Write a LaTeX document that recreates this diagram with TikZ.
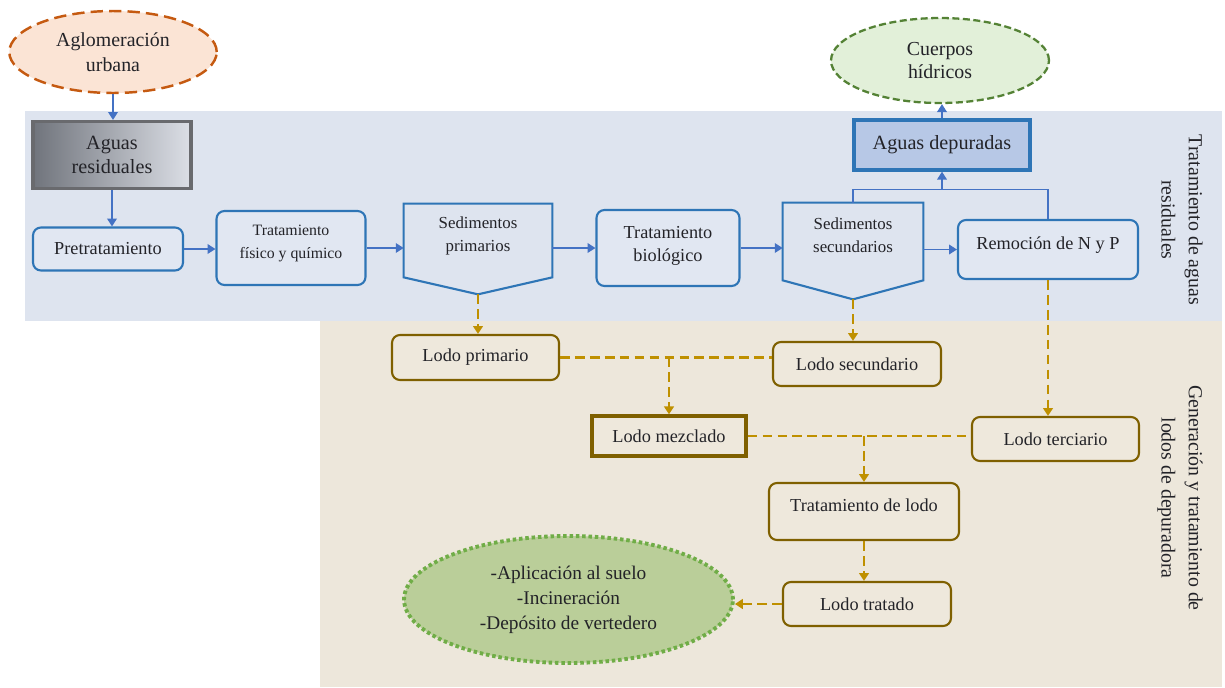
\documentclass[tikz,border=0pt]{standalone}
\usepackage{fontspec}
\setmainfont{Liberation Serif}
\usepackage{tikz}
\usetikzlibrary{shapes.geometric,arrows.meta,positioning,calc}
\definecolor{bandblue}{RGB}{222,228,239}
\definecolor{bandbeige}{RGB}{237,231,219}
\definecolor{boxblue}{RGB}{46,117,182}
\definecolor{flowblue}{RGB}{68,114,196}
\definecolor{boxfillblue}{RGB}{225,231,242}
\definecolor{depfill}{RGB}{183,200,230}
\definecolor{lodobrown}{RGB}{127,96,0}
\definecolor{lodofill}{RGB}{238,232,220}
\definecolor{lodogold}{RGB}{191,144,0}
\definecolor{aglofill}{RGB}{251,228,213}
\definecolor{agloedge}{RGB}{197,90,17}
\definecolor{aguafill}{RGB}{226,240,217}
\definecolor{aguaedge}{RGB}{84,130,53}
\definecolor{finfill}{RGB}{186,206,153}
\definecolor{finedge}{RGB}{112,173,71}
\definecolor{resedge}{RGB}{105,106,110}
\definecolor{resdark}{RGB}{112,116,124}
\definecolor{reslight}{RGB}{220,223,230}
\definecolor{inktext}{RGB}{35,35,40}

\begin{document}
\begin{tikzpicture}[x=0.02cm, y=-0.02cm,
    every node/.style={text=inktext, align=center},
    wbox/.style={rectangle, draw=boxblue, fill=boxfillblue, line width=1.2pt,
        rounded corners=4.5pt, font=\fontsize{10.4}{13}\selectfont},
    sedbody/.style={rectangle, font=\fontsize{9.6}{13}\selectfont},
    sedline/.style={draw=boxblue, line width=1.2pt, line join=miter},
    lbox/.style={rectangle, draw=lodobrown, fill=lodofill, line width=1.2pt,
        rounded corners=4.5pt, font=\fontsize{10.4}{13}\selectfont},
    blob/.style={ellipse, line width=1.4pt},
    bflow/.style={draw=flowblue, line width=0.8pt},
    lflow/.style={draw=lodogold, line width=1.6pt, dash pattern=on 5.5pt off 3pt},
    sidelbl/.style={rotate=-90, font=\fontsize{11.3}{15.5}\selectfont},
    >={Triangle[length=4.5pt,width=5.5pt]}
]
\useasboundingbox (0,0) rectangle (1225,687);
% bands
\fill[bandblue] (25,111) rectangle (1222,321);
\fill[bandbeige] (320,321) rectangle (1222,687);

% water line
\node[blob, draw=agloedge, fill=aglofill, dash pattern=on 7pt off 3.5pt,
    minimum width=4.15cm, minimum height=1.64cm, font=\fontsize{11.3}{14.2}\selectfont]
    (aglo) at (113,52) {Aglomeración\\urbana};
\node[rectangle, draw=resedge, line width=1.8pt, left color=resdark, right color=reslight,
    minimum width=3.16cm, minimum height=1.34cm, font=\fontsize{11.5}{13.2}\selectfont]
    (resid) at (112,155) {Aguas\\residuales};
\node[wbox, minimum width=3.0cm, minimum height=0.86cm] (pretrat) at (108,249) {Pretratamiento};
\node[wbox, minimum width=2.98cm, minimum height=1.48cm, font=\fontsize{9}{13}\selectfont]
    (fisq) at (291,248) {Tratamiento\\físico y químico\\[-6pt]\mbox{}};
\node[sedbody, minimum width=2.96cm, minimum height=1.46cm] (sedp) at (478,240.5)
    {Sedimentos\\primarios\\[-6pt]\mbox{}};
\coordinate (sedptip) at ($(sedp.south)+(0,17)$);
\draw[sedline] (sedp.north west) -- (sedp.north east) -- (sedp.south east)
    -- (sedptip) -- (sedp.south west) -- cycle;
\node[wbox, minimum width=2.86cm, minimum height=1.52cm] (biol) at (668,248)
    {Tratamiento\\biológico\\[-8pt]\mbox{}};
\node[sedbody, minimum width=2.8cm, minimum height=1.54cm] (seds) at (853,241.5)
    {Sedimentos\\secundarios\\[-6pt]\mbox{}};
\coordinate (sedstip) at ($(seds.south)+(0,19)$);
\draw[sedline] (seds.north west) -- (seds.north east) -- (seds.south east)
    -- (sedstip) -- (seds.south west) -- cycle;
\node[wbox, minimum width=3.6cm, minimum height=1.18cm] (remo) at (1048,249.5)
    {Remoción de N y P\\[-6pt]\mbox{}};
\node[rectangle, draw=boxblue, fill=depfill, line width=1.9pt,
    minimum width=3.52cm, minimum height=1.0cm, font=\fontsize{11.5}{14}\selectfont]
    (depur) at (942,145) {Aguas depuradas};
\node[blob, draw=aguaedge, fill=aguafill, line width=1.3pt, dash pattern=on 4pt off 2pt,
    minimum width=4.36cm, minimum height=1.7cm, font=\fontsize{11.3}{13.6}\selectfont]
    (cuerp) at (940,60.5) {Cuerpos\\hídricos};

% sludge line
\node[lbox, minimum width=3.34cm, minimum height=0.9cm] (lprim) at (475.5,357.5) {Lodo primario};
\node[lbox, minimum width=3.36cm, minimum height=0.88cm] (lsec) at (857,364) {Lodo secundario};
\node[lbox, rounded corners=0pt, line width=1.9pt, minimum width=3.08cm, minimum height=0.8cm]
    (lmez) at (669,436) {Lodo mezclado};
\node[lbox, minimum width=3.34cm, minimum height=0.88cm] (lter) at (1055.5,439) {Lodo terciario};
\node[lbox, minimum width=3.8cm, minimum height=1.14cm] (ltrat) at (864,511.5)
    {Tratamiento de lodo\\[-6pt]\mbox{}};
\node[lbox, minimum width=3.36cm, minimum height=0.88cm] (ltrd) at (867,604) {Lodo tratado};
\node[blob, draw=finedge, fill=finfill, line width=2.2pt, dash pattern=on 2pt off 1.6pt,
    minimum width=6.58cm, minimum height=2.54cm, font=\fontsize{11}{14.2}\selectfont]
    (fin) at (568.5,599.5) {-Aplicación al suelo\\-Incineración\\-Depósito de vertedero};

% side labels
\node[sidelbl] (lblagua) at (1182,220) {Tratamiento de aguas\\residuales};
\node[sidelbl] (lbllodo) at (1180,498) {Generación y tratamiento de\\lodos de depuradora};

% water connectors
\draw[bflow,->] (aglo.south) -- (aglo.south |- resid.north);
\draw[bflow,->] (resid.south) -- (resid.south |- pretrat.north);
\draw[bflow,->] (pretrat.east) -- (pretrat.east -| fisq.west);
\draw[bflow,->] (fisq.east) -- (fisq.east -| sedp.west);
\draw[bflow,->] (sedp.east |- biol.west) -- (biol.west);
\draw[bflow,->] (biol.east) -- (biol.east -| seds.west);
\draw[bflow,->] (seds.east |- remo.west) -- (remo.west);
\coordinate (topj) at ($(depur.south)+(0,18)$);
\draw[bflow] (seds.north) |- (topj) -| (remo.north);
\draw[bflow,->] (topj) -- (depur.south);
\draw[bflow,->] (depur.north) -- (depur.north |- cuerp.south);

% sludge connectors
\draw[lflow,->] (sedptip) -- (sedptip |- lprim.north);
\draw[lflow,->] (sedstip) -- (sedstip |- lsec.north);
\draw[lflow] (lprim.east) -- (lprim.east -| lsec.west);
\coordinate (mixj) at (lmez.north |- lprim.east);
\draw[lflow,->] (mixj) -- (lmez.north);
\draw[lflow,->] (remo.south) -- (remo.south |- lter.north);
\draw[lflow] (lmez.east) -- (lmez.east -| lter.west);
\coordinate (tratj) at (ltrat.north |- lmez.east);
\draw[lflow,->] (tratj) -- (ltrat.north);
\draw[lflow,->] (ltrat.south) -- (ltrat.south |- ltrd.north);
\draw[lflow,->] (ltrd.west) -- (ltrd.west -| fin.east);
\end{tikzpicture}
\end{document}
